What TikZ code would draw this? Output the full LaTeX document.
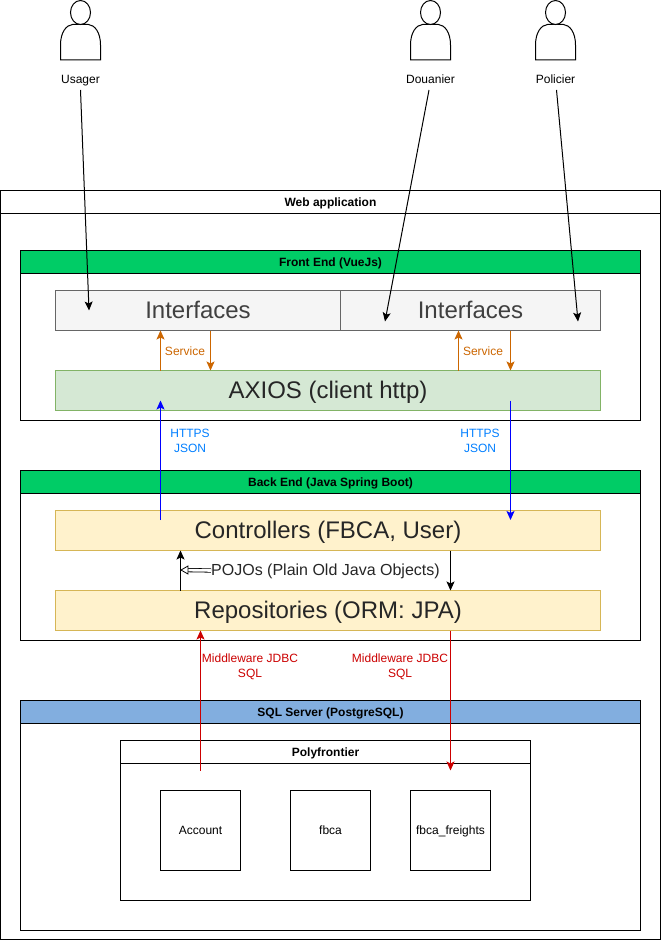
\documentclass[tikz,border=0pt]{standalone}
\usepackage{fontspec}
\setmainfont{Liberation Sans}
\usetikzlibrary{arrows.meta}
\definecolor{hgreen}{HTML}{00CC66}
\definecolor{hblue}{HTML}{82AEDF}
\definecolor{orangeline}{HTML}{CC6600}
\definecolor{textblue}{HTML}{007FFF}
\definecolor{redline}{HTML}{CC0000}
\definecolor{axfill}{HTML}{D5E8D4}
\definecolor{axline}{HTML}{82B366}
\definecolor{yfill}{HTML}{FFF2CC}
\definecolor{yline}{HTML}{D6B656}
\tikzset{
  box/.style={draw=black,fill=white,line width=1pt,inner sep=0pt,outer sep=0pt,rectangle,anchor=center},
  headtxt/.style={font=\fontsize{12}{14}\selectfont\bfseries,text=black,text height=11.5pt,text depth=2.5pt},
  bigtxt/.style={font=\fontsize{24}{28}\selectfont,text=black!85,text height=20pt,text depth=5pt},
  ifc/.style={box,fill=black!4,draw=black!60,minimum height=40pt,font=\fontsize{24}{28}\selectfont,text=black!75,text height=20pt,text depth=5pt},
  small/.style={font=\fontsize{12}{15}\selectfont,align=center,inner sep=0pt},
  one/.style={font=\fontsize{12}{15}\selectfont,inner sep=0pt,text height=9.5pt,text depth=2.5pt},
  conn/.style={line width=1pt,-{Stealth[length=9pt,width=8pt,inset=2pt]}},
  person/.style={line width=1pt,draw=black,fill=white}
}
\begin{document}
\begin{tikzpicture}[x=1pt,y=-1pt]
\useasboundingbox (0,0) rectangle (661,941);
\fill[white] (0,0) rectangle (661,941);
% containers
\node[box,minimum width=660pt,minimum height=749pt] (web) at (330.5,565) {};
\node[box,minimum width=660pt,minimum height=23pt,headtxt] (webh) at (330.5,202) {Web application};
\node[box,minimum width=620pt,minimum height=170pt] (front) at (330.5,335.5) {};
\node[box,fill=hgreen,minimum width=620pt,minimum height=23pt,headtxt] (fronth) at (330.5,262) {Front End (VueJs)};
\node[box,minimum width=620pt,minimum height=170pt] (back) at (330.5,555.5) {};
\node[box,fill=hgreen,minimum width=620pt,minimum height=23pt,headtxt] (backh) at (330.5,482) {Back End (Java Spring Boot)};
\node[box,minimum width=620pt,minimum height=230pt] (sql) at (330.5,815.5) {};
\node[box,fill=hblue,minimum width=620pt,minimum height=23pt,headtxt] (sqlh) at (330.5,712) {SQL Server (PostgreSQL)};
\node[box,minimum width=410pt,minimum height=160pt] (poly) at (325.5,820.5) {};
\node[box,minimum width=410pt,minimum height=23pt,headtxt] (polyh) at (325.5,752) {Polyfrontier};
% inner boxes
\node[ifc,minimum width=285pt] (ifa) at (198,310.5) {Interfaces};
\node[ifc,minimum width=260pt] (ifb) at (470.5,310.5) {Interfaces};
\node[box,fill=axfill,draw=axline,minimum width=545pt,minimum height=40pt,bigtxt] (axios) at (328,390.5) {AXIOS (client http)};
\node[box,fill=yfill,draw=yline,minimum width=545pt,minimum height=40pt,bigtxt] (ctrl) at (328,530.5) {Controllers (FBCA, User)};
\node[box,fill=yfill,draw=yline,minimum width=545pt,minimum height=40pt,bigtxt] (repo) at (328,610.5) {Repositories (ORM: JPA)};
\node[box,minimum width=80pt,minimum height=80pt,one] (acc) at (200.5,830.5) {Account};
\node[box,minimum width=80pt,minimum height=80pt,one] (fbca) at (330.5,830.5) {fbca};
\node[box,minimum width=80pt,minimum height=80pt,one] (fr) at (450.5,830.5) {fbca\_freights};
% actors
\foreach \n/\cx in {pa/80.5,pb/430.5,pc/555.5}{
  \begin{scope}[shift={(\cx,0)}]
    \draw[person] (-20,60) -- (-20,45) .. controls (-20,32) and (-14,25) .. (-8,24.5)
      -- (8,24.5) .. controls (14,25) and (20,32) .. (20,45) -- (20,60) -- cycle;
    \draw[person] (0,12.5) ellipse (10 and 12);
  \end{scope}
}
\node[one] (usager) at (80.5,80.5) {Usager};
\node[one] (douanier) at (430.5,80.5) {Douanier};
\node[one] (policier) at (555.5,80.5) {Policier};
% free ends
\coordinate (ua) at (80.5,90);  \coordinate (ub) at (89,310.5);
\coordinate (da) at (429,90);   \coordinate (db) at (385,321.5);
\coordinate (pa) at (556.5,90); \coordinate (pb) at (578,321.5);
\coordinate (xa) at (160.5,0);
\coordinate (xb) at (210.5,0);
\coordinate (xc) at (458.5,0);
\coordinate (xd) at (510.5,0);
\coordinate (xe) at (180.5,0);
\coordinate (xf) at (450.5,0);
\coordinate (xg) at (200.5,0);
\coordinate (bs) at (160.5,520);
\coordinate (be) at (160.5,400.5);
\coordinate (cs) at (510.5,400.5);
\coordinate (ce) at (510.5,520);
\coordinate (rs) at (200.5,770.5);
\coordinate (re) at (450.5,770.5);
\coordinate (pj) at (181,570);
% connectors
\draw[conn,black] (ua) -- (ub);
\draw[conn,black] (da) -- (db);
\draw[conn,black] (pa) -- (pb);
\draw[conn,orangeline] (axios.north -| xa) -- (ifa.south -| xa);
\draw[conn,orangeline] (ifa.south -| xb) -- (axios.north -| xb);
\draw[conn,orangeline] (axios.north -| xc) -- (ifb.south -| xc);
\draw[conn,orangeline] (ifb.south -| xd) -- (axios.north -| xd);
\draw[conn,blue] (bs) -- (be);
\draw[conn,blue] (cs) -- (ce);
\draw[conn,black] (repo.north -| xe) -- (ctrl.south -| xe);
\draw[conn,black] (ctrl.south -| xf) -- (repo.north -| xf);
\draw[conn,redline] (rs) -- (repo.south -| xg);
\draw[conn,redline] (repo.south -| xf) -- (re);
% labels
\node[one,text=orangeline] (s1) at (185,352) {Service};
\node[one,text=orangeline] (s2) at (483,352) {Service};
\node[small,text=textblue] (h1) at (190,441) {HTTPS\\JSON};
\node[small,text=textblue] (h2) at (480,441) {HTTPS\\JSON};
\node[small,text=redline] (m1) at (250,667) {Middleware JDBC\\SQL};
\node[small,text=redline] (m2) at (400,667) {Middleware JDBC\\SQL};
\node[inner sep=0pt,anchor=west,font=\fontsize{16}{19}\selectfont,text=black!85,text height=12.5pt,text depth=3.5pt] (pojo) at (211,570.5) {POJOs (Plain Old Java Objects)};
\draw[draw=black,double=white,double distance=2.6pt,line width=0.8pt,shorten >=6pt] (pojo.west) -- (pj);
\draw[draw=black,fill=white,line width=0.8pt] (pj) -- ++(7,-4) -- ++(0,8) -- cycle;
\end{tikzpicture}
\end{document}
